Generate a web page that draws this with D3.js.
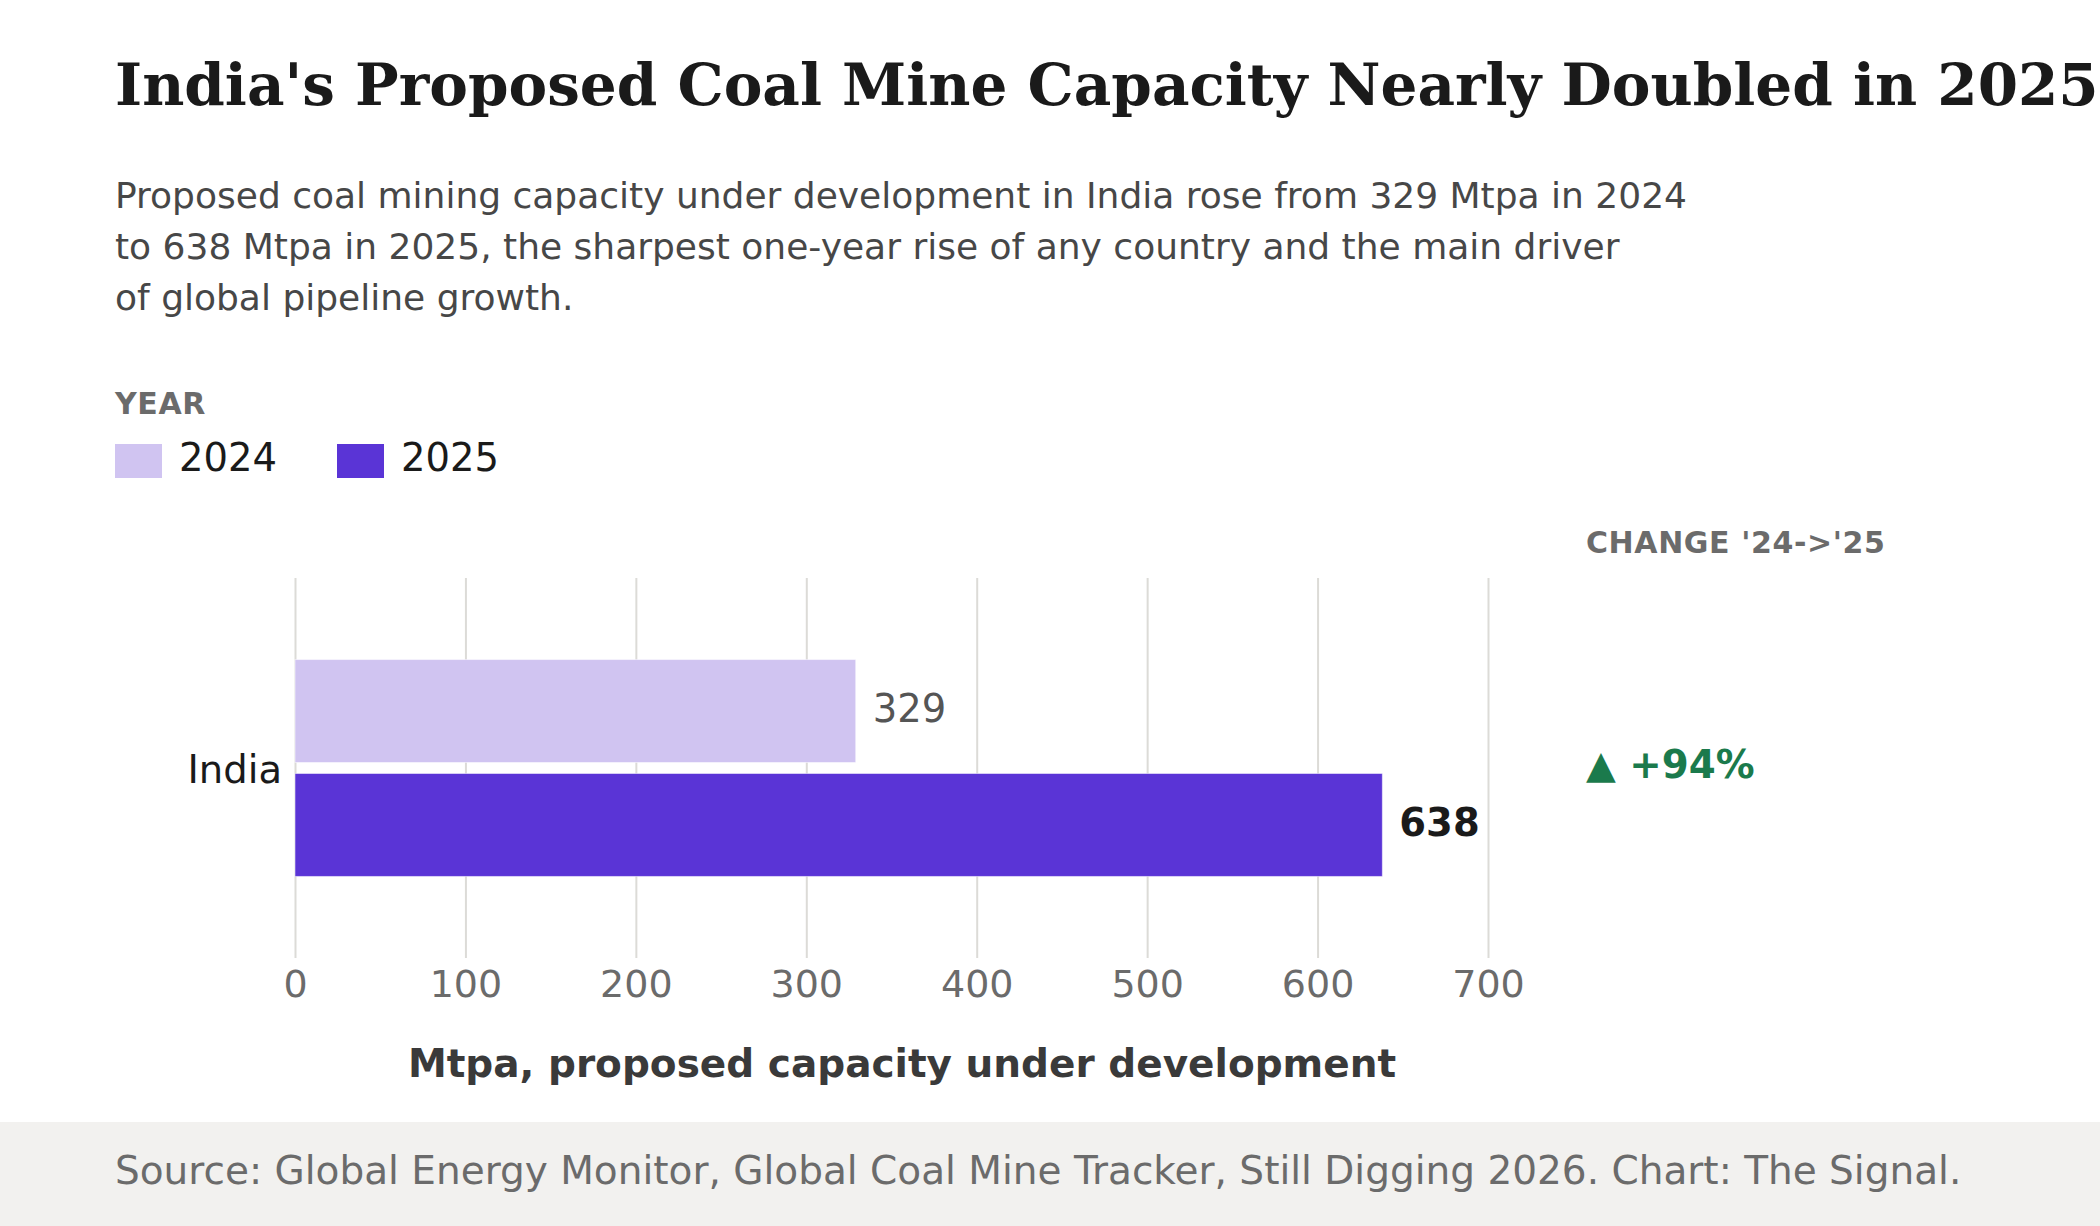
<!DOCTYPE html>
<html>
<head>
<meta charset="utf-8">
<script src="https://cdn.jsdelivr.net/npm/d3@7"></script>
<style>
  body { margin: 0; background: #fff; }
  svg { display: block; font-family: "DejaVu Sans", sans-serif; }
</style>
</head>
<body>
<div id="chart"></div>
<script>
// data
var countries = ["India"];
var years = ["2024", "2025"];
var capacity2024 = [329];
var capacity2025 = [638];
var changeLabels = ["\u25B2 +94%"];
var xTicks = [0, 100, 200, 300, 400, 500, 600, 700];
var yearColors = ["#d0c4f1", "#5a34d6"];

var W = 2100, H = 1226;
var margin = {top: 578, left: 295, right: 612, bottom: 268};

var svg = d3.select("#chart")
  .append("svg")
  .attr("width", W)
  .attr("height", H);

// title + subtitle
svg.append("text")
  .attr("x", 115).attr("y", 105)
  .attr("font-family", "DejaVu Serif")
  .attr("font-weight", "bold")
  .attr("font-size", 58)
  .attr("fill", "#1a1a1a")
  .text("India's Proposed Coal Mine Capacity Nearly Doubled in 2025");

var subLines = [
  "Proposed coal mining capacity under development in India rose from 329 Mtpa in 2024",
  "to 638 Mtpa in 2025, the sharpest one-year rise of any country and the main driver",
  "of global pipeline growth."
];
svg.append("g").selectAll("text")
  .data(subLines)
  .enter().append("text")
    .attr("x", 115)
    .attr("y", function(d, i) { return 208 + i * 51; })
    .attr("font-size", 36)
    .attr("fill", "#474747")
    .text(function(d) { return d; });

// legend
svg.append("text")
  .attr("x", 115).attr("y", 414)
  .attr("font-weight", "bold")
  .attr("font-size", 30)
  .attr("letter-spacing", 0.6)
  .attr("fill", "#6b6b6b")
  .text("YEAR");

var legend = svg.append("g").selectAll("g")
  .data(years)
  .enter().append("g")
    .attr("transform", function(d, i) { return "translate(" + (115 + i * 222) + ",444)"; });
legend.append("rect")
  .attr("width", 47).attr("height", 34)
  .attr("fill", function(d, i) { return yearColors[i]; });
legend.append("text")
  .attr("x", 64).attr("y", 27)
  .attr("font-size", 38.5)
  .attr("fill", "#1a1a1a")
  .text(function(d) { return d; });

// scales
var x = d3.scaleLinear()
  .domain([0, 700])
  .range([margin.left, W - margin.right]);

var y = d3.scaleBand()
  .domain(countries)
  .range([margin.top, H - margin.bottom])
  .paddingInner(0)
  .paddingOuter(0.376);

var ySub = d3.scaleBand()
  .domain(years)
  .range([0, y.bandwidth()])
  .paddingInner(0.0965);

// grid + x axis
var xAxis = svg.append("g")
  .attr("transform", "translate(0," + (H - margin.bottom) + ")")
  .call(d3.axisBottom(x)
    .tickValues(xTicks)
    .tickSize(-(H - margin.bottom - margin.top))
    .tickPadding(12));
xAxis.select(".domain").remove();
xAxis.selectAll(".tick line")
  .attr("stroke", "#dcdbd7")
  .attr("stroke-width", 2);
xAxis.selectAll(".tick text")
  .attr("font-family", "DejaVu Sans")
  .attr("font-size", 38)
  .attr("fill", "#6b6b6b");

svg.append("text")
  .attr("x", 902).attr("y", 1077)
  .attr("text-anchor", "middle")
  .attr("font-weight", "bold")
  .attr("font-size", 39)
  .attr("fill", "#3a3a3a")
  .text("Mtpa, proposed capacity under development");

// bars
var rows = countries.map(function(c, i) {
  return {country: c, values: [capacity2024[i], capacity2025[i]], change: changeLabels[i]};
});

var row = svg.append("g").selectAll("g")
  .data(rows)
  .enter().append("g")
    .attr("transform", function(d) { return "translate(0," + y(d.country) + ")"; });

row.selectAll("rect")
  .data(function(d) { return d.values; })
  .enter().append("rect")
    .attr("x", x(0))
    .attr("y", function(d, i) { return ySub(years[i]); })
    .attr("width", function(d) { return x(d) - x(0); })
    .attr("height", ySub.bandwidth())
    .attr("fill", function(d, i) { return yearColors[i]; })
    .attr("stroke", "#ffffff")
    .attr("stroke-opacity", 0.5)
    .attr("stroke-width", 1);

row.selectAll(".val")
  .data(function(d) { return d.values; })
  .enter().append("text")
    .attr("class", "val")
    .attr("x", function(d) { return x(d) + 17; })
    .attr("y", function(d, i) { return ySub(years[i]) + ySub.bandwidth() / 2; })
    .attr("dy", "0.29em")
    .attr("font-size", 38.5)
    .attr("font-weight", function(d, i) { return i == 1 ? "bold" : "normal"; })
    .attr("fill", function(d, i) { return i == 1 ? "#1a1a1a" : "#555"; })
    .text(function(d) { return d; });

row.append("text")
  .attr("x", x(0) - 13)
  .attr("y", y.bandwidth() / 2)
  .attr("dy", "0.4em")
  .attr("text-anchor", "end")
  .attr("font-size", 38.5)
  .attr("fill", "#1a1a1a")
  .text(function(d) { return d.country; });

// change column
svg.append("text")
  .attr("x", 1586).attr("y", 553)
  .attr("font-weight", "bold")
  .attr("font-size", 30)
  .attr("letter-spacing", 0.6)
  .attr("fill", "#6b6b6b")
  .text("CHANGE '24->'25");

row.append("text")
  .attr("x", 1586)
  .attr("y", y.bandwidth() / 2)
  .attr("dy", "0.27em")
  .attr("font-weight", "bold")
  .attr("font-size", 38.8)
  .attr("fill", "#1b7a4c")
  .text(function(d) { return d.change; });

// footer
svg.append("rect")
  .attr("x", 0).attr("y", 1122)
  .attr("width", W).attr("height", H - 1122)
  .attr("fill", "#f2f1ef");
svg.append("text")
  .attr("x", 115).attr("y", 1184)
  .attr("font-size", 39)
  .attr("fill", "#6b6b6b")
  .text("Source: Global Energy Monitor, Global Coal Mine Tracker, Still Digging 2026. Chart: The Signal.");
</script>
</body>
</html>
